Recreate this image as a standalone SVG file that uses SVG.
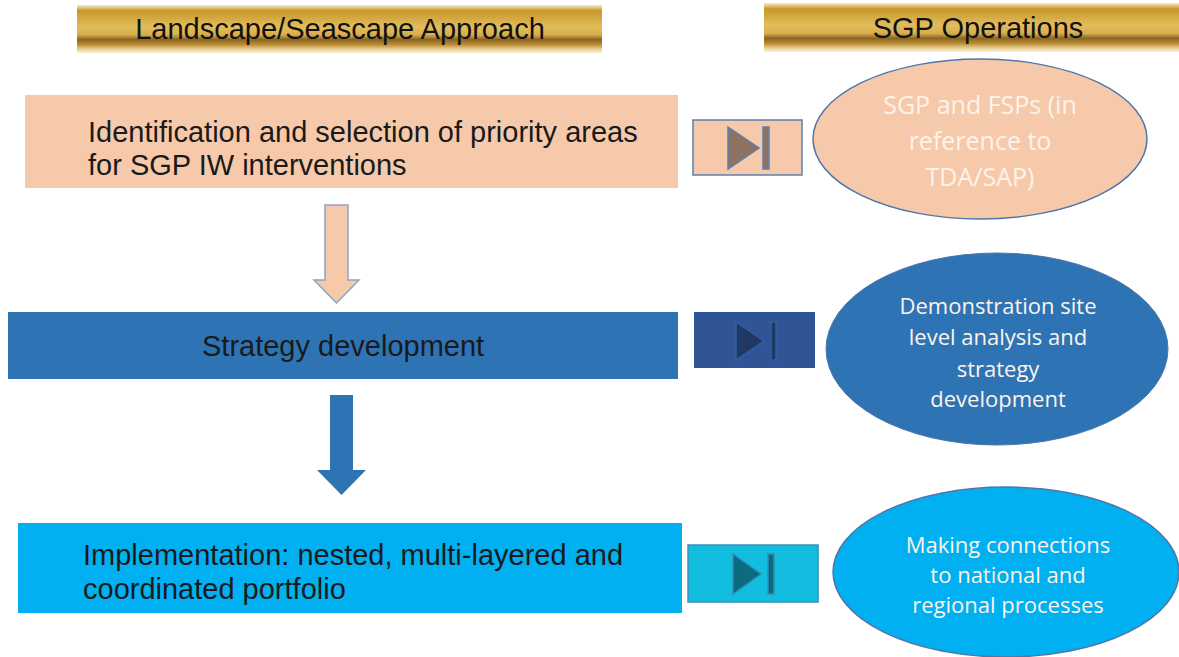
<svg xmlns="http://www.w3.org/2000/svg" width="1179" height="657" viewBox="0 0 1179 657">
  <defs>
    <linearGradient id="gold" x1="0" y1="0" x2="0" y2="1">
      <stop offset="0" stop-color="#f8ecc8"/>
      <stop offset="0.12" stop-color="#c8962a"/>
      <stop offset="0.45" stop-color="#e2bd5c"/>
      <stop offset="0.62" stop-color="#d8ae4c"/>
      <stop offset="0.72" stop-color="#8a6422"/>
      <stop offset="0.82" stop-color="#b88a30"/>
      <stop offset="0.92" stop-color="#e8cf94"/>
      <stop offset="1" stop-color="#fbf1d8"/>
    </linearGradient>
    <style>
      .hdr { font-family: "Liberation Sans", Arial, sans-serif; font-size: 29px; fill: #111; text-anchor: middle; }
      .lbl { font-family: "Liberation Sans", Arial, sans-serif; font-size: 29px; fill: #1a1a1a; }
      .oval { font-family: "Open Sans", "Noto Sans", sans-serif; fill: #fdf3ea; text-anchor: middle; }
      .btn { stroke-width: 1.5; }
    </style>
  </defs>

  <rect width="1179" height="657" fill="#ffffff"/>

  <!-- column headers -->
  <g id="header-left">
    <rect x="77" y="5" width="525" height="48" fill="url(#gold)"/>
    <text class="hdr" x="340" y="39">Landscape/Seascape Approach</text>
  </g>
  <g id="header-right">
    <rect x="764" y="3" width="415" height="49" fill="url(#gold)"/>
    <text class="hdr" x="978" y="38">SGP Operations</text>
  </g>

  <!-- left column steps -->
  <g id="step-identification">
    <rect x="25" y="95" width="653" height="93" fill="#f6c9aa"/>
    <text class="lbl" x="88" y="142">Identification and selection of priority areas</text>
    <text class="lbl" x="88" y="175">for SGP IW interventions</text>
  </g>
  <g id="step-strategy">
    <rect x="8" y="312" width="670" height="67" fill="#2e74b5"/>
    <text class="lbl" x="202" y="356">Strategy development</text>
  </g>
  <g id="step-implementation">
    <rect x="18" y="523" width="664" height="90" fill="#00b0f0"/>
    <text class="lbl" x="83" y="565">Implementation: nested, multi-layered and</text>
    <text class="lbl" x="83" y="599">coordinated portfolio</text>
  </g>

  <!-- flow arrows between steps -->
  <g id="connectors">
    <path d="M325 205 H348 V280 H359 L336.5 303 L314 280 H325 Z" fill="#f6c9aa" stroke="#8fa3c2" stroke-width="1.5"/>
    <path d="M330 395 H353 V470 H366 L341.5 495 L317 470 H330 Z" fill="#2e74b5"/>
  </g>

  <!-- link buttons -->
  <g id="button-1">
    <rect class="btn" x="693" y="120" width="109" height="55" fill="#f6c9aa" stroke="#5b7fb0"/>
    <path class="btn" d="M728 127 L759 148 L728 169 Z" fill="#8e7262" stroke="#5b7fb0"/>
    <rect class="btn" x="763" y="127" width="6" height="42" fill="#8e7262" stroke="#5b7fb0"/>
  </g>
  <g id="button-2">
    <rect x="694" y="312" width="121" height="56" fill="#2f5597"/>
    <path class="btn" d="M736 322 L764 341 L736 360 Z" fill="#1f3864" stroke="#2f5fa0"/>
    <rect class="btn" x="771" y="322" width="5" height="38" fill="#1f3864" stroke="#2f5fa0"/>
  </g>
  <g id="button-3">
    <rect class="btn" x="688" y="545" width="130" height="57" fill="#12bde0" stroke="#3a8fb8"/>
    <path class="btn" d="M733 554 L761 574 L733 594 Z" fill="#0d6b80" stroke="#2b90b8"/>
    <rect class="btn" x="768" y="554" width="6" height="40" fill="#0d6b80" stroke="#2b90b8"/>
  </g>

  <!-- SGP operations -->
  <g id="op-fsps">
    <ellipse cx="980" cy="139" rx="167" ry="80" fill="#f6c9aa" stroke="#4f76a8" stroke-width="1.5"/>
    <text class="oval" font-size="25" x="980" y="114">SGP and FSPs (in</text>
    <text class="oval" font-size="25" x="980" y="150">reference to</text>
    <text class="oval" font-size="25" x="980" y="186">TDA/SAP)</text>
  </g>
  <g id="op-demonstration">
    <ellipse cx="997" cy="349" rx="171" ry="96" fill="#2e74b5" stroke="#4f76a8" stroke-width="1"/>
    <text class="oval" font-size="22" x="998" y="314">Demonstration site</text>
    <text class="oval" font-size="22" x="998" y="345">level analysis and</text>
    <text class="oval" font-size="22" x="998" y="377">strategy</text>
    <text class="oval" font-size="22" x="998" y="407">development</text>
  </g>
  <g id="op-connections">
    <ellipse cx="1006" cy="572" rx="173" ry="85" fill="#00b0f0" stroke="#4f76a8" stroke-width="1.5"/>
    <text class="oval" font-size="22" x="1008" y="553">Making connections</text>
    <text class="oval" font-size="22" x="1008" y="583">to national and</text>
    <text class="oval" font-size="22" x="1008" y="613">regional processes</text>
  </g>
</svg>
